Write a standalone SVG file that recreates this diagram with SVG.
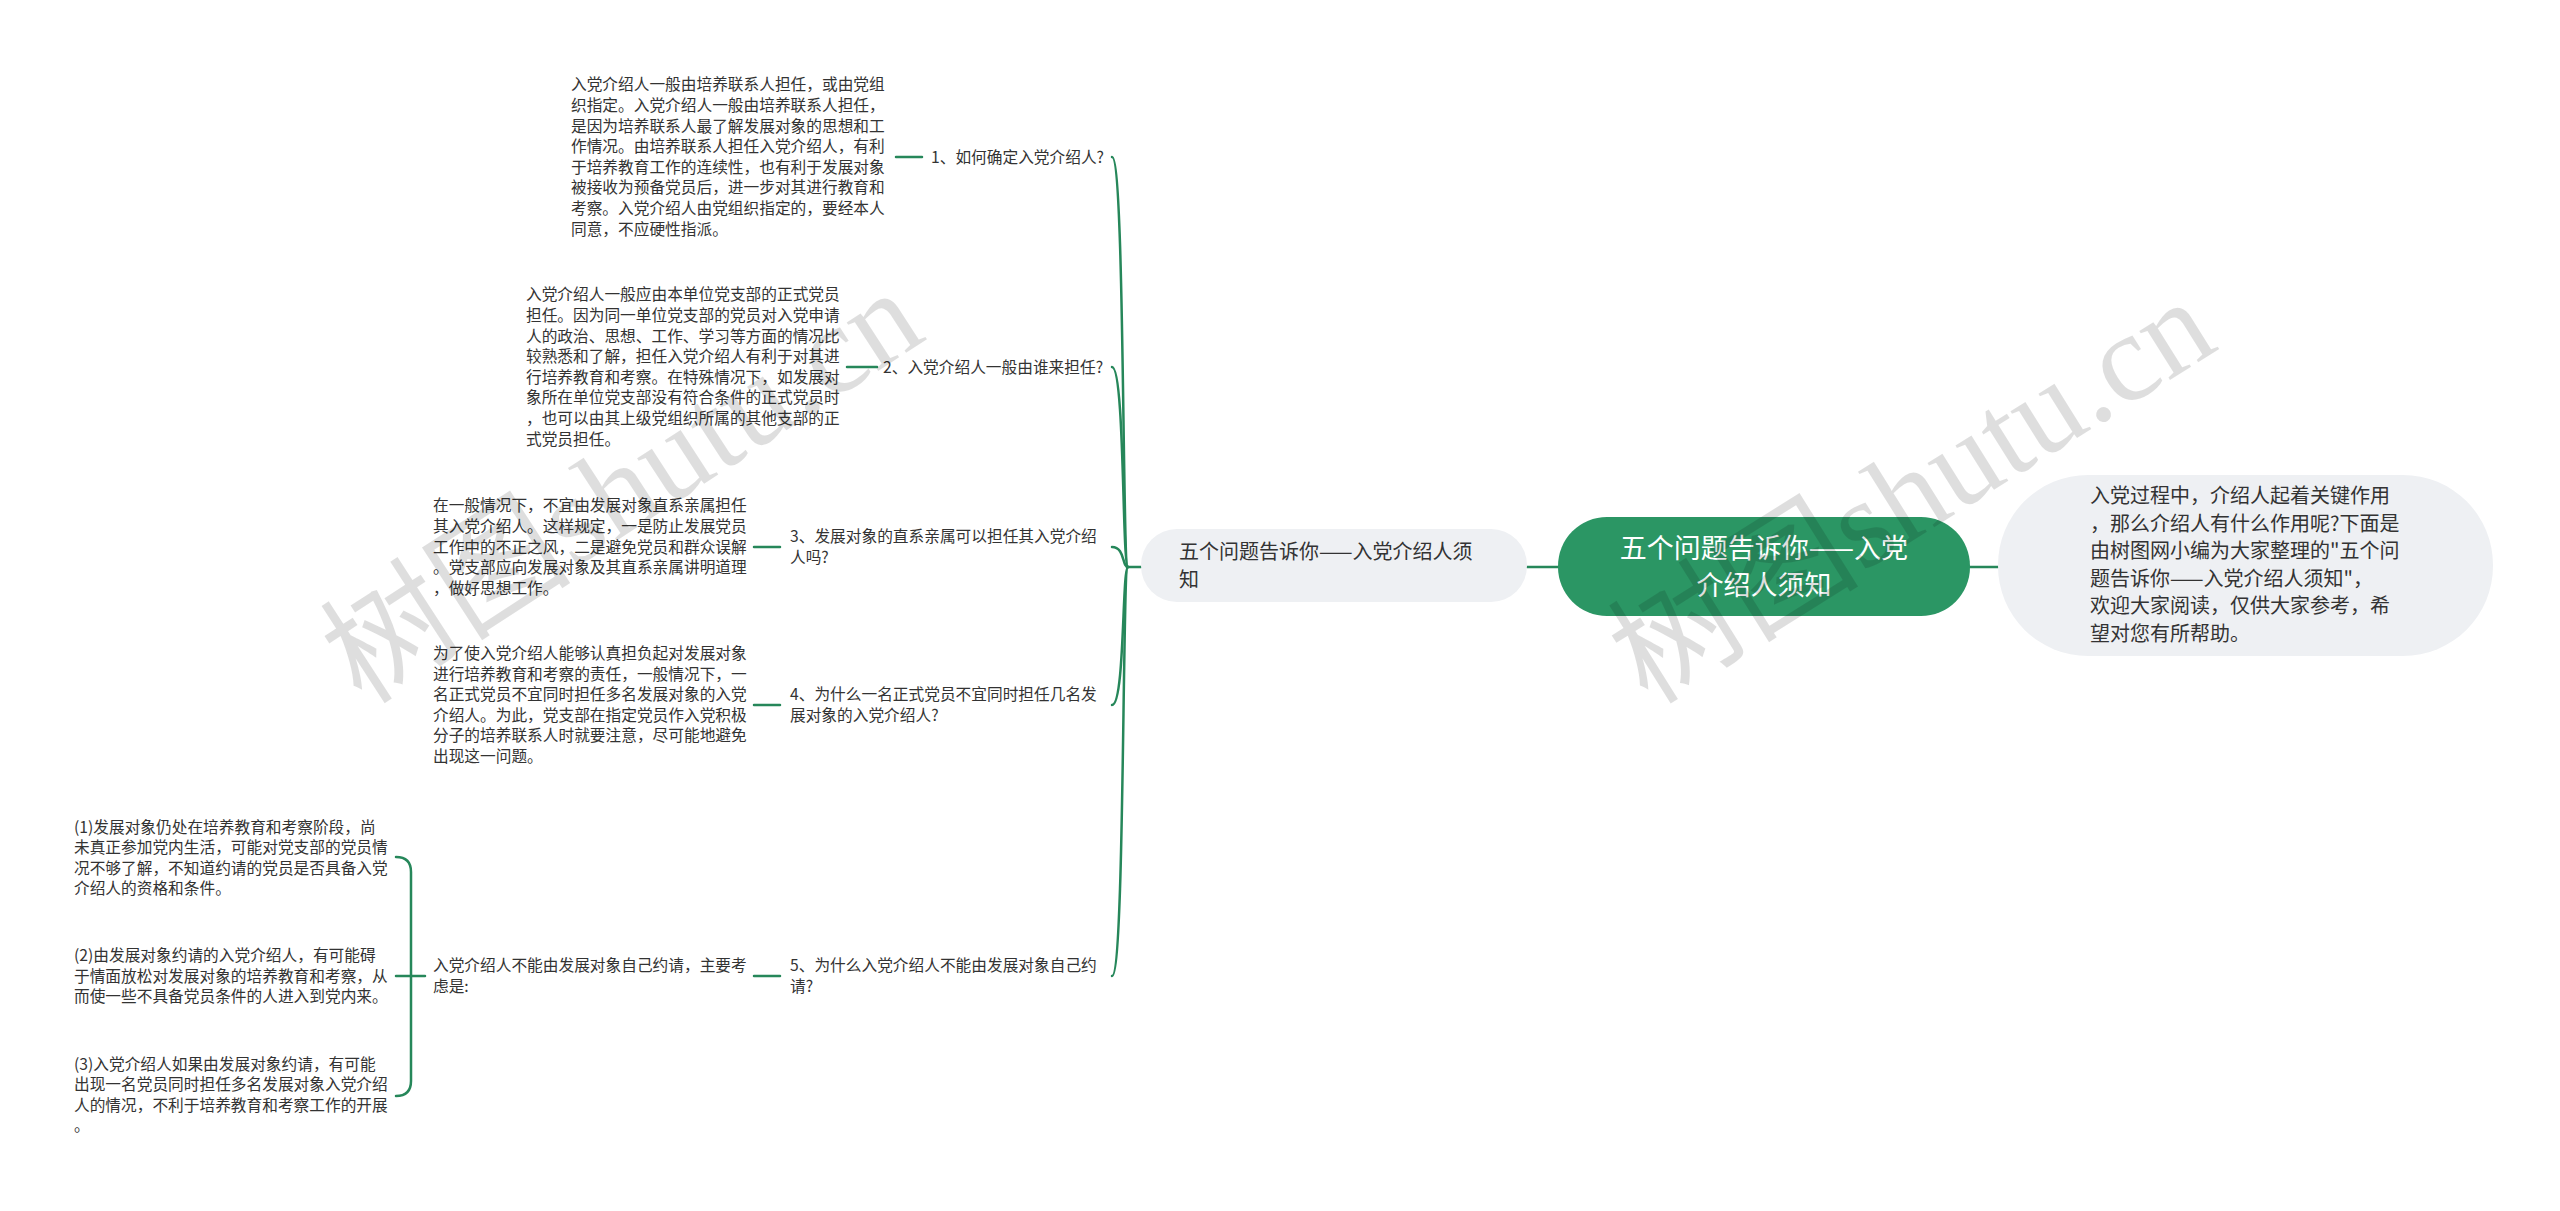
<svg xmlns="http://www.w3.org/2000/svg" width="2560" height="1211" viewBox="0 0 2560 1211">
<style>
.t{font-family:"Noto Sans CJK SC","Noto Sans",sans-serif;font-size:15.7px;fill:#333}
.m{font-family:"Noto Sans CJK SC","Noto Sans",sans-serif;font-size:20px;fill:#333}
.r{font-family:"Noto Sans CJK SC","Noto Sans",sans-serif;font-size:27px;fill:#fff;text-anchor:middle}
.c{fill:none;stroke:#26875a;stroke-width:2.5;stroke-linecap:round}
.wm{font-family:"Liberation Serif","Noto Sans CJK SC",serif;font-size:126px;fill:#000;fill-opacity:0.13}
</style>
<rect width="2560" height="1211" fill="#fff"/>
<g id="connectors">
<line class="c" x1="1970" y1="567" x2="1998" y2="567"/>
<line class="c" x1="1527" y1="567" x2="1558" y2="567"/>
<line class="c" x1="1141" y1="567" x2="1127" y2="567"/>
<path class="c" d="M1112 157 C1125 157 1122 567 1128 567"/>
<path class="c" d="M1112 367 C1125 367 1122 567 1128 567"/>
<path class="c" d="M1112 547 C1125 547 1122 567 1128 567"/>
<path class="c" d="M1112 705 C1125 705 1122 567 1128 567"/>
<path class="c" d="M1112 976 C1125 976 1122 567 1128 567"/>
<line class="c" x1="896" y1="157" x2="922" y2="157"/>
<line class="c" x1="847" y1="367" x2="877" y2="367"/>
<line class="c" x1="754" y1="547" x2="780" y2="547"/>
<line class="c" x1="754" y1="705" x2="780" y2="705"/>
<line class="c" x1="754" y1="976" x2="780" y2="976"/>
<path class="c" d="M396 857 Q411 857 411 872 L411 1081 Q411 1096 396 1096"/>
<line class="c" x1="396" y1="976" x2="425" y2="976"/>
</g>
<g id="root">
<rect x="1558" y="517" width="412" height="99" rx="49" fill="#2b9664"/>
<text class="r" x="1764" y="557.5">五个问题告诉你——入党</text>
<text class="r" x="1764" y="594.5">介绍人须知</text>
</g>
<g id="intro">
<rect x="1998" y="475" width="495" height="181" rx="90" fill="#eef0f3"/>
<text class="m" x="2090" y="503">入党过程中，介绍人起着关键作用</text>
<text class="m" x="2090" y="530.5">，那么介绍人有什么作用呢?下面是</text>
<text class="m" x="2090" y="558">由树图网小编为大家整理的"五个问</text>
<text class="m" x="2090" y="585.5">题告诉你——入党介绍人须知"，</text>
<text class="m" x="2090" y="613">欢迎大家阅读，仅供大家参考，希</text>
<text class="m" x="2090" y="640.5">望对您有所帮助。</text>
</g>
<g id="main">
<rect x="1141" y="529" width="386" height="73" rx="36" fill="#eef0f3"/>
<text class="m" x="1179" y="559">五个问题告诉你——入党介绍人须</text>
<text class="m" x="1179" y="587">知</text>
</g>
<g id="q1">
<text class="t" x="931" y="162.5">1、如何确定入党介绍人?</text>
</g>
<g id="d1">
<text class="t" x="571" y="90.4">入党介绍人一般由培养联系人担任，或由党组</text>
<text class="t" x="571" y="111">织指定。入党介绍人一般由培养联系人担任，</text>
<text class="t" x="571" y="131.6">是因为培养联系人最了解发展对象的思想和工</text>
<text class="t" x="571" y="152.2">作情况。由培养联系人担任入党介绍人，有利</text>
<text class="t" x="571" y="172.8">于培养教育工作的连续性，也有利于发展对象</text>
<text class="t" x="571" y="193.4">被接收为预备党员后，进一步对其进行教育和</text>
<text class="t" x="571" y="214">考察。入党介绍人由党组织指定的，要经本人</text>
<text class="t" x="571" y="234.6">同意，不应硬性指派。</text>
</g>
<g id="q2">
<text class="t" x="883" y="372.5">2、入党介绍人一般由谁来担任?</text>
</g>
<g id="d2">
<text class="t" x="526" y="300.4">入党介绍人一般应由本单位党支部的正式党员</text>
<text class="t" x="526" y="321">担任。因为同一单位党支部的党员对入党申请</text>
<text class="t" x="526" y="341.6">人的政治、思想、工作、学习等方面的情况比</text>
<text class="t" x="526" y="362.2">较熟悉和了解，担任入党介绍人有利于对其进</text>
<text class="t" x="526" y="382.8">行培养教育和考察。在特殊情况下，如发展对</text>
<text class="t" x="526" y="403.4">象所在单位党支部没有符合条件的正式党员时</text>
<text class="t" x="526" y="424">，也可以由其上级党组织所属的其他支部的正</text>
<text class="t" x="526" y="444.6">式党员担任。</text>
</g>
<g id="q3">
<text class="t" x="790" y="542.2">3、发展对象的直系亲属可以担任其入党介绍</text>
<text class="t" x="790" y="562.8">人吗?</text>
</g>
<g id="d3">
<text class="t" x="433" y="511.3">在一般情况下，不宜由发展对象直系亲属担任</text>
<text class="t" x="433" y="531.9">其入党介绍人。这样规定，一是防止发展党员</text>
<text class="t" x="433" y="552.5">工作中的不正之风，二是避免党员和群众误解</text>
<text class="t" x="433" y="573.1">。党支部应向发展对象及其直系亲属讲明道理</text>
<text class="t" x="433" y="593.7">，做好思想工作。</text>
</g>
<g id="q4">
<text class="t" x="790" y="700.2">4、为什么一名正式党员不宜同时担任几名发</text>
<text class="t" x="790" y="720.8">展对象的入党介绍人?</text>
</g>
<g id="d4">
<text class="t" x="433" y="659">为了使入党介绍人能够认真担负起对发展对象</text>
<text class="t" x="433" y="679.6">进行培养教育和考察的责任，一般情况下，一</text>
<text class="t" x="433" y="700.2">名正式党员不宜同时担任多名发展对象的入党</text>
<text class="t" x="433" y="720.8">介绍人。为此，党支部在指定党员作入党积极</text>
<text class="t" x="433" y="741.4">分子的培养联系人时就要注意，尽可能地避免</text>
<text class="t" x="433" y="762">出现这一问题。</text>
</g>
<g id="q5">
<text class="t" x="790" y="971.2">5、为什么入党介绍人不能由发展对象自己约</text>
<text class="t" x="790" y="991.8">请?</text>
</g>
<g id="d5">
<text class="t" x="433" y="971.2">入党介绍人不能由发展对象自己约请，主要考</text>
<text class="t" x="433" y="991.8">虑是:</text>
</g>
<g id="r1">
<text class="t" x="74" y="832.6">(1)发展对象仍处在培养教育和考察阶段，尚</text>
<text class="t" x="74" y="853.2">未真正参加党内生活，可能对党支部的党员情</text>
<text class="t" x="74" y="873.8">况不够了解，不知道约请的党员是否具备入党</text>
<text class="t" x="74" y="894.4">介绍人的资格和条件。</text>
</g>
<g id="r2">
<text class="t" x="74" y="960.9">(2)由发展对象约请的入党介绍人，有可能碍</text>
<text class="t" x="74" y="981.5">于情面放松对发展对象的培养教育和考察，从</text>
<text class="t" x="74" y="1002.1">而使一些不具备党员条件的人进入到党内来。</text>
</g>
<g id="r3">
<text class="t" x="74" y="1069.6">(3)入党介绍人如果由发展对象约请，有可能</text>
<text class="t" x="74" y="1090.2">出现一名党员同时担任多名发展对象入党介绍</text>
<text class="t" x="74" y="1110.8">人的情况，不利于培养教育和考察工作的开展</text>
<text class="t" x="74" y="1131.4">。</text>
</g>
<g id="watermark">
<text class="wm" transform="translate(362 706) rotate(-33)">树图shutu.cn</text>
<text class="wm" transform="translate(1648 706) rotate(-32)">树图shutu.cn</text>
</g>
</svg>
